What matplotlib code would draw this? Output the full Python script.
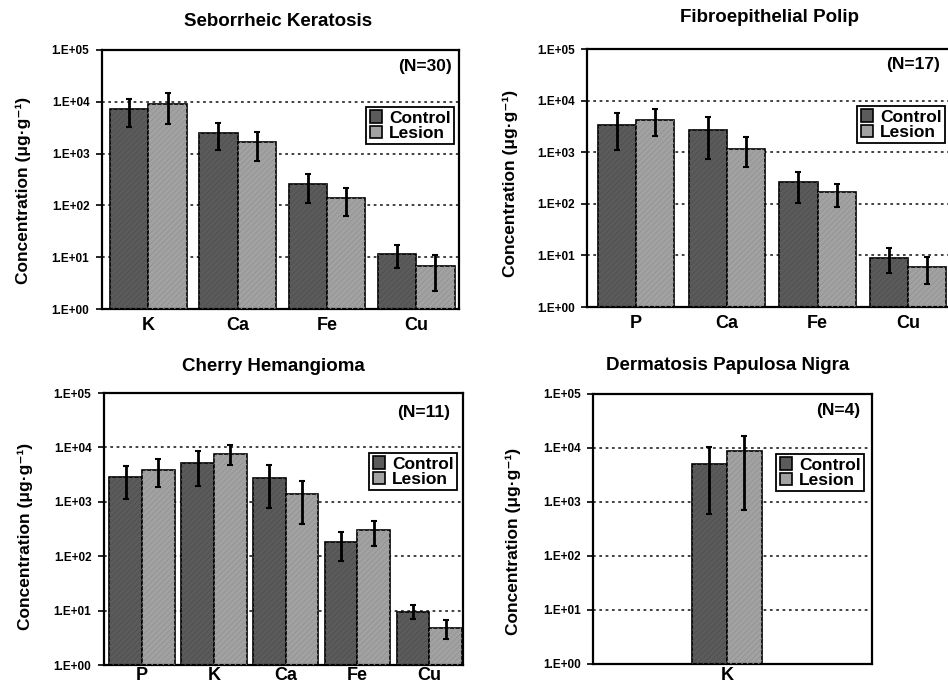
import numpy as np
import matplotlib
matplotlib.use("Agg")
import matplotlib.pyplot as plt
from matplotlib.ticker import FixedLocator, NullLocator

plt.rcParams['font.family'] = ['Liberation Sans', 'DejaVu Sans']
plt.rcParams['hatch.linewidth'] = 0.6

# Seborrheic Keratosis
sk_elem = ['K', 'Ca', 'Fe', 'Cu']
sk_ctrl = [7300, 2550, 261, 11.7]
sk_ctrl_lo = [4100, 1370, 151, 5.6]
sk_ctrl_hi = [3800, 1310, 146, 5.7]
sk_les = [9000, 1660, 140, 6.65]
sk_les_lo = [5300, 936, 77, 4.45]
sk_les_hi = [5500, 1000, 75, 4.15]

# Fibroepithelial Polip
fp_elem = ['P', 'Ca', 'Fe', 'Cu']
fp_ctrl = [3370, 2650, 265, 8.9]
fp_ctrl_lo = [2280, 1915, 161, 4.3]
fp_ctrl_hi = [2380, 2240, 142, 4.8]
fp_les = [4270, 1150, 170, 5.9]
fp_les_lo = [2180, 641, 83, 3.1]
fp_les_hi = [2610, 790, 75, 3.5]

# Cherry Hemangioma
ch_elem = ['P', 'K', 'Ca', 'Fe', 'Cu']
ch_ctrl = [2870, 5190, 2790, 184, 9.5]
ch_ctrl_lo = [1740, 3230, 2016, 102, 2.6]
ch_ctrl_hi = [1640, 3300, 1910, 97, 3.1]
ch_les = [3910, 7690, 1420, 301, 4.84]
ch_les_lo = [2030, 2990, 1032, 148, 1.89]
ch_les_hi = [2320, 3250, 1000, 146, 1.86]

# Dermatosis Papulosa Nigra
dp_elem = ['K']
dp_ctrl = [5070]
dp_ctrl_lo = [4470]
dp_ctrl_hi = [5280]
dp_les = [8850]
dp_les_lo = [8140]
dp_les_hi = [7950]

ytick_vals = [1, 10, 100, 1000, 10000, 100000]
ytick_labels = ['1.E+00', '1.E+01', '1.E+02', '1.E+03', '1.E+04', '1.E+05']

ctrl_color = '#5b5b5b'
les_color = '#a2a2a2'

W, H = 948, 687
fig = plt.figure(figsize=(W / 100, H / 100), dpi=100)
fig.patch.set_facecolor('white')


def px_axes(left, top, right, bottom):
    return fig.add_axes([left / W, 1 - bottom / H, (right - left) / W, (bottom - top) / H])


def draw_panel(ax, elems, ctrl, c_lo, c_hi, les, l_lo, l_hi, bw, xlim, nlabel, leg_xy, n_xy, xpad=6):
    x = np.arange(len(elems))
    ebar = dict(ecolor='black', elinewidth=2.0, capsize=2.5, capthick=1.5, zorder=4)
    ax.bar(x - bw / 2, ctrl, bw, yerr=[c_lo, c_hi], color=ctrl_color, edgecolor='black',
           linewidth=1.2, label='Control', error_kw=ebar, zorder=2)
    ax.bar(x + bw / 2, les, bw, yerr=[l_lo, l_hi], color=les_color, edgecolor='black',
           linewidth=1.2, label='Lesion', error_kw=ebar, zorder=2)
    # faint scan-like texture
    ax.bar(x - bw / 2, ctrl, bw, fill=False, hatch='//////', edgecolor='#4f4f4f', linewidth=0, zorder=3)
    ax.bar(x + bw / 2, les, bw, fill=False, hatch='//////', edgecolor='#939393', linewidth=0, zorder=3)
    ax.set_yscale('log')
    ax.set_ylim(1, 1e5)
    ax.set_xlim(*xlim)
    ax.yaxis.set_major_locator(FixedLocator(ytick_vals))
    ax.yaxis.set_minor_locator(NullLocator())
    ax.set_yticklabels(ytick_labels, fontsize=8.5, fontweight='bold')
    ax.set_xticks(x)
    ax.set_xticklabels(elems, fontsize=13, fontweight='bold')
    ax.tick_params(axis='x', length=0, pad=xpad)
    ax.tick_params(axis='y', length=4, width=1.2, pad=5, direction='out')
    for yv in ytick_vals[1:-1]:
        ax.axhline(yv, color='#333333', linestyle=(0, (1.5, 2)), linewidth=1.3, zorder=1)
    for s in ax.spines.values():
        s.set_linewidth(1.6)
    ax.text(n_xy[0] / W, 1 - n_xy[1] / H, nlabel, transform=fig.transFigure,
            ha='right', va='center', fontsize=12.5, fontweight='bold')
    leg = ax.legend(loc='upper right', bbox_to_anchor=(leg_xy[0] / W, 1 - leg_xy[1] / H),
                    bbox_transform=fig.transFigure, fancybox=False, edgecolor='black',
                    framealpha=1, prop={'size': 12.5, 'weight': 'bold'},
                    handlelength=0.7, handleheight=0.7, handletextpad=0.4,
                    labelspacing=0.0, borderpad=0.2, borderaxespad=0)
    leg.get_frame().set_linewidth(1.3)
    leg.set_zorder(5)


ylab = 'Concentration (μg·g⁻¹)'

ax1 = px_axes(102, 50, 459, 309)
draw_panel(ax1, sk_elem, sk_ctrl, sk_ctrl_lo, sk_ctrl_hi, sk_les, sk_les_lo, sk_les_hi,
           0.43, (-0.52, 3.48), '(N=30)', (454, 107), (452, 67))
ax2 = px_axes(587, 49, 950, 307)
draw_panel(ax2, fp_elem, fp_ctrl, fp_ctrl_lo, fp_ctrl_hi, fp_les, fp_les_lo, fp_les_hi,
           0.42, (-0.54, 3.46), '(N=17)', (945, 106), (940, 65))
ax3 = px_axes(104, 393, 463, 665)
draw_panel(ax3, ch_elem, ch_ctrl, ch_ctrl_lo, ch_ctrl_hi, ch_les, ch_les_lo, ch_les_hi,
           0.455, (-0.53, 4.47), '(N=11)', (457, 453), (450, 412), xpad=1.5)
ax4 = px_axes(593, 394, 872, 664)
draw_panel(ax4, dp_elem, dp_ctrl, dp_ctrl_lo, dp_ctrl_hi, dp_les, dp_les_lo, dp_les_hi,
           0.125, (-0.48, 0.52), '(N=4)', (864, 454), (860, 410), xpad=2)

titles = [('Seborrheic Keratosis', 278, 22), ('Fibroepithelial Polip', 770, 18),
          ('Cherry Hemangioma', 273, 367), ('Dermatosis Papulosa Nigra', 728, 365)]
for t, tx, ty in titles:
    fig.text(tx / W, 1 - ty / H, t, ha='center', va='center', fontsize=13.5, fontweight='bold')

for lx, ly in [(23, 190), (510, 183), (25, 536), (513, 541)]:
    fig.text(lx / W, 1 - ly / H, ylab, ha='center', va='center', rotation=90,
             fontsize=12.5, fontweight='bold')

fig.savefig('out.png', dpi=100)
